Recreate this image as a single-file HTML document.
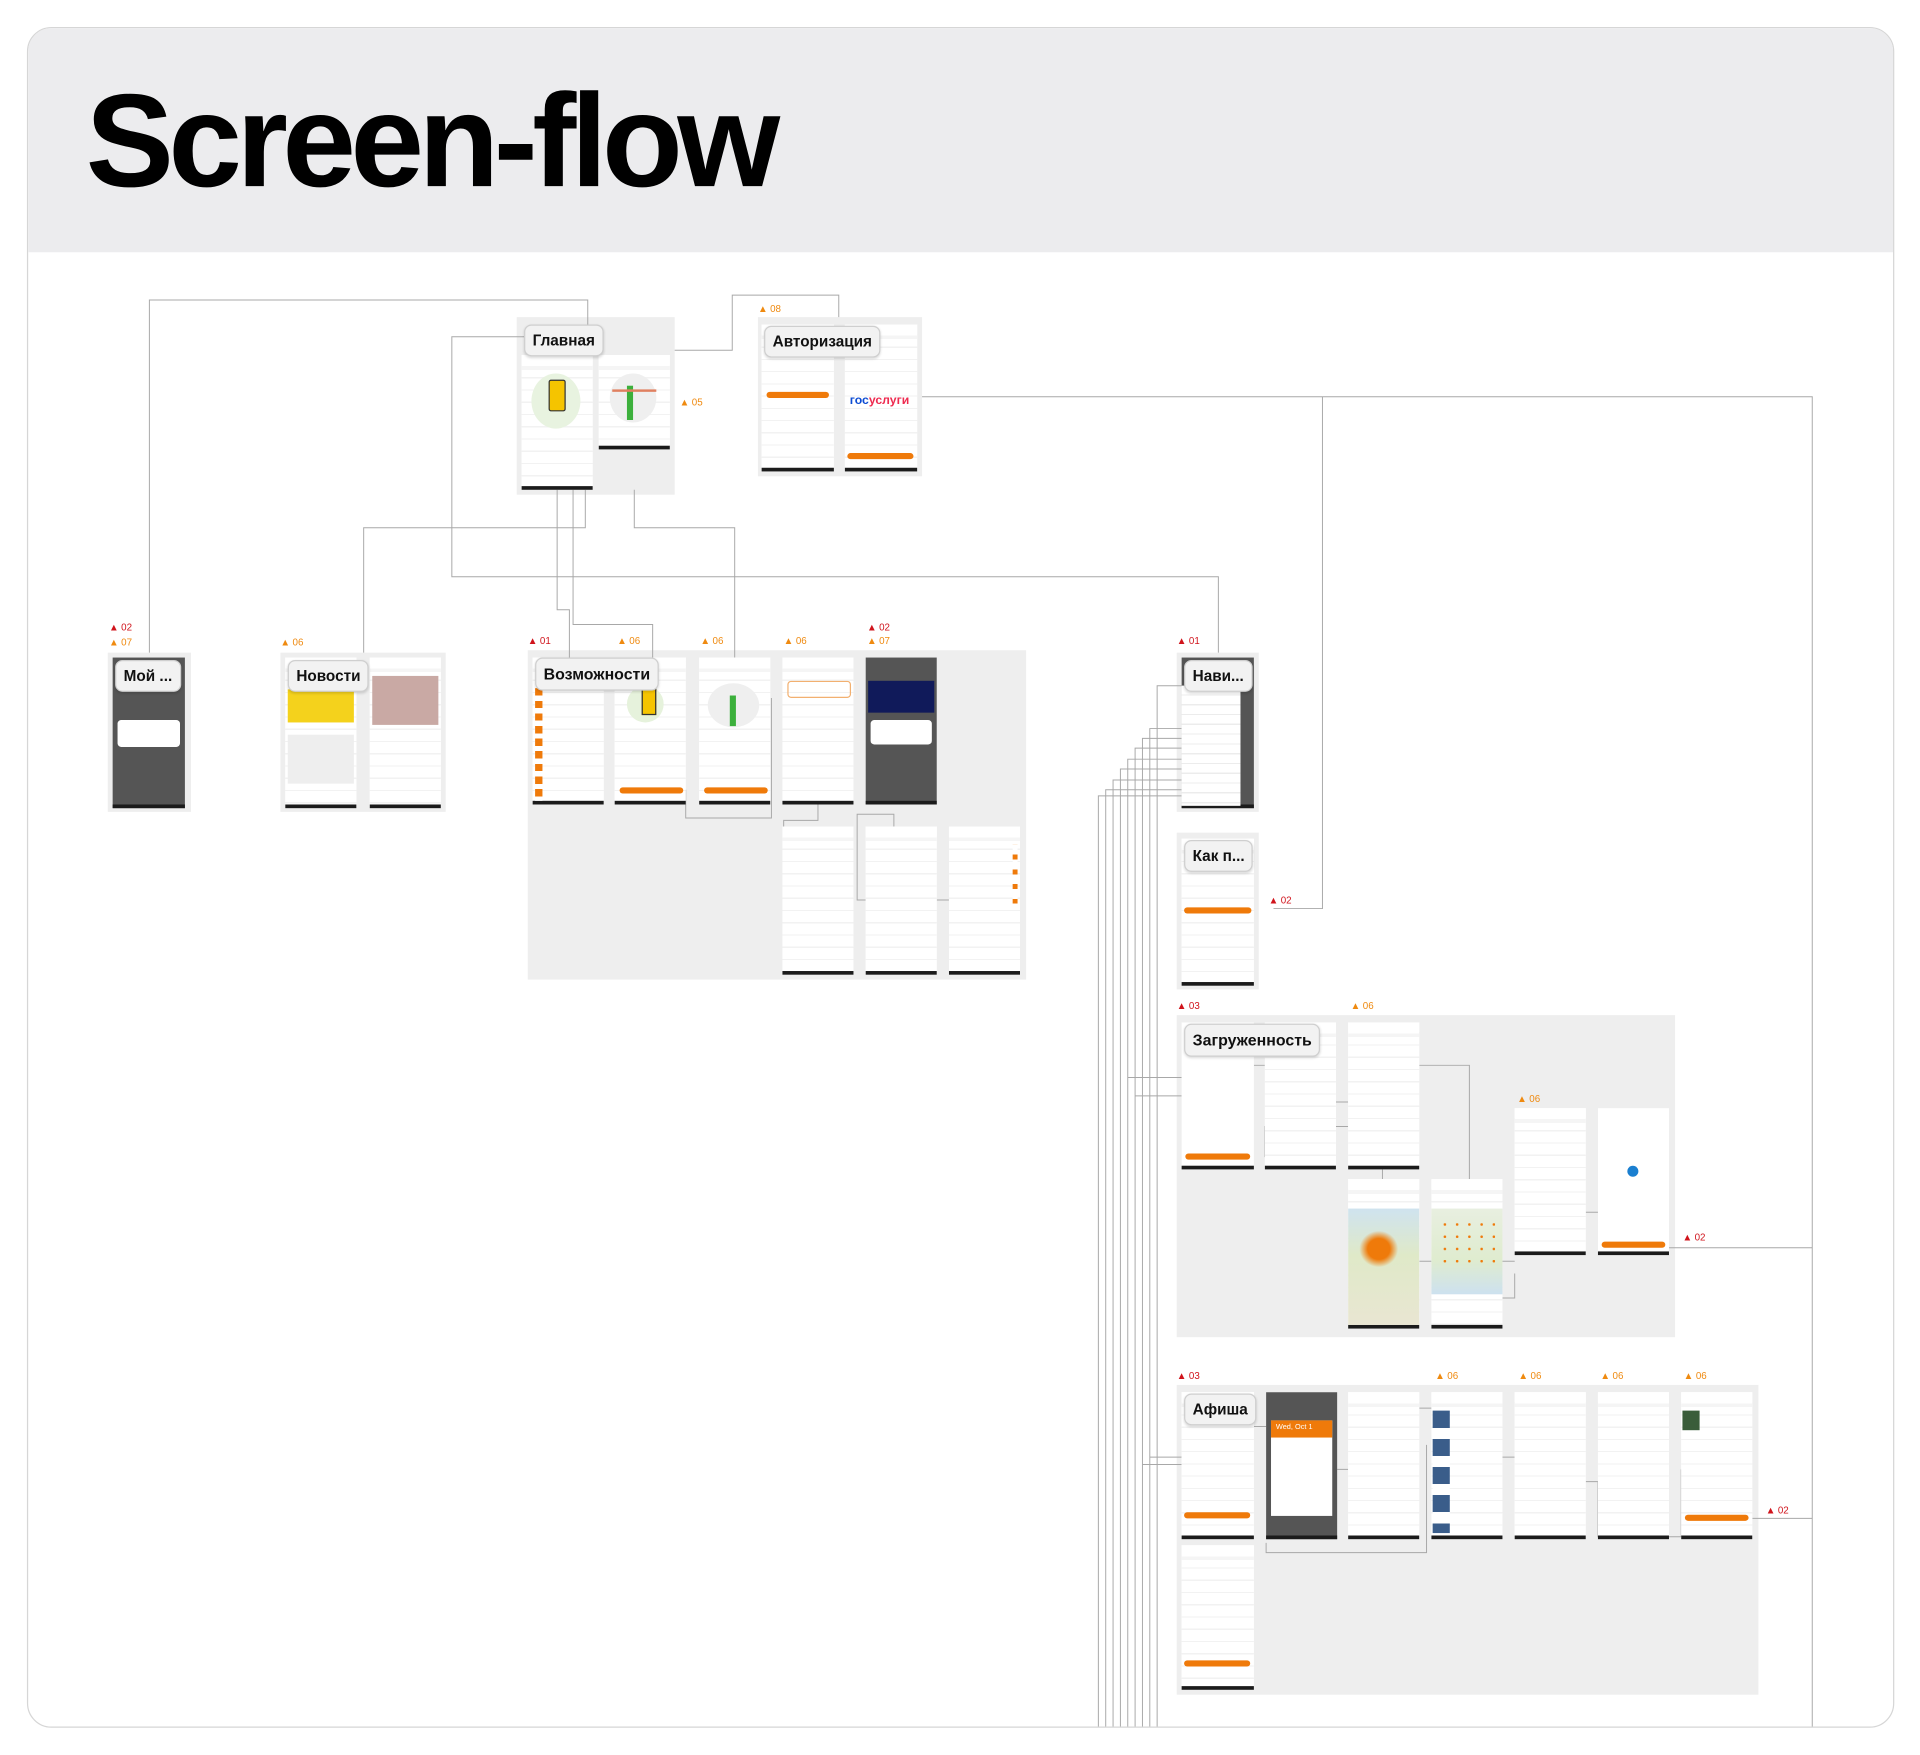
<!DOCTYPE html>
<html><head><meta charset="utf-8"><style>
html,body{margin:0;padding:0;background:#fff;width:1920px;height:1755px;overflow:hidden}
#st{position:absolute;left:0;top:0;width:1568px;height:1433px;transform:scale(1.22449);transform-origin:0 0;font-family:"Liberation Sans","DejaVu Sans",sans-serif}
.card{position:absolute;left:22px;top:22px;width:1523px;height:1387px;border:1px solid #d6d6d6;border-radius:20px;overflow:hidden;background:#fff}
.hdr{position:absolute;left:0;top:0;right:0;height:183px;background:#ececee}
.ttl{position:absolute;left:47px;top:38px;font-size:108px;font-weight:bold;letter-spacing:-4.5px;color:#000;line-height:1}
.g{position:absolute;background:#eeeeee}
.p{position:absolute;background-color:#fff;border-bottom:3px solid #1b1b1b;box-sizing:border-box;background-image:linear-gradient(#fff 0 9px,#f5f5f5 9px 12px,transparent 12px),repeating-linear-gradient(#fff 0 8px,#f2f2f2 8px 9px,#fff 9px 10px);}
.d{background-color:#555;background-image:none}
.lb{position:absolute;background:#f2f2f2;border:1px solid #cfcfcf;border-radius:6px;font-weight:bold;font-size:12.5px;color:#111;padding:5px 6px;box-shadow:0 1px 2px rgba(0,0,0,.15);white-space:nowrap}
.b{position:absolute;height:5px;background:#ef7a0a;border-radius:3px}
.w{position:absolute;font-size:8px;color:#ef8a10;white-space:nowrap}
.w.r{color:#d0141c}
.w:before{content:"▲";margin-right:2px}
svg{position:absolute;left:0;top:0}
</style></head><body><div id="st">
<div class="card"><div class="hdr"><div class="ttl">Screen-flow</div></div></div>

<div class="g" style="left:422px;top:259px;width:129px;height:145px"></div>
<div class="g" style="left:619px;top:259px;width:134px;height:130px"></div>
<div class="g" style="left:88px;top:533px;width:68px;height:130px"></div>
<div class="g" style="left:229px;top:533px;width:135px;height:130px"></div>
<div class="g" style="left:431px;top:531px;width:407px;height:269px"></div>
<div class="g" style="left:961px;top:533px;width:67px;height:130px"></div>
<div class="g" style="left:961px;top:680px;width:67px;height:128px"></div>
<div class="g" style="left:961px;top:829px;width:407px;height:263px"></div>
<div class="g" style="left:961px;top:1131px;width:475px;height:253px"></div>

<svg width="1568" height="1433" fill="none" stroke="#a8a8a8" stroke-width="0.8">
<path d="M122 533V245H480V265"/>
<path d="M551 286H598V241H685V259"/>
<path d="M428 275H369V471H995V533"/>
<path d="M297 533V431H478V400"/>
<path d="M518 400V431H600V537"/>
<path d="M455 400V498H465V537"/>
<path d="M468 400V510H533V537"/>
<path d="M753 324H1480V1410"/>
<path d="M1080 324V742H1040"/>
<path d="M1363 1019H1480"/>
<path d="M1431 1240H1480"/>
<path d="M560 645V668H630V570"/>
<path d="M668 657V670H640V680"/>
<path d="M700 675V665H730V680"/>
<path d="M700 675V735H775"/>
<path d="M897 1410V650H965M903 1410V645H965M909 1410V637H965M915 1410V628H965M921 1410V620H965M927 1410V611H965M933 1410V603H965M939 1410V595H965M945 1410V560H965"/>
<path d="M921 880H965M927 895H965M933 1196H965M939 1190H965"/>
<path d="M1024 870H1033M1091 900H1101M1033 945H1033V920H1101M1159 870H1200V1030H1237M1129 955V963M1159 1030H1169M1227 1060H1237V1040M1295 990H1305M1022 1165H1034M1092 1200H1101M1034 1260V1268H1165V1180M1159 1150H1169M1227 1190H1237M1295 1210H1305V1255H1373V1200"/>
</svg>

<div class="p" style="left:426px;top:290px;width:58px;height:110px"></div>
<div class="p" style="left:489px;top:290px;width:58px;height:77px"></div>
<div style="position:absolute;left:434px;top:305px;width:40px;height:45px;border-radius:50%;background:#e8f3e0"></div>
<div style="position:absolute;left:448px;top:310px;width:12px;height:24px;border-radius:2px;background:#f5c400;border:1px solid #333"></div>
<div style="position:absolute;left:498px;top:305px;width:38px;height:40px;border-radius:50%;background:#efefef"></div>
<div style="position:absolute;left:512px;top:315px;width:5px;height:28px;background:#3cb03c"></div>
<div style="position:absolute;left:500px;top:318px;width:36px;height:2px;background:#e08060"></div>
<div class="lb" style="left:428px;top:265px">Главная</div>
<div class="w" style="left:555px;top:324px">05</div>

<div class="p" style="left:622px;top:265px;width:59px;height:120px"></div>
<div class="p" style="left:690px;top:265px;width:59px;height:120px"></div>
<div class="b" style="left:626px;top:320px;width:51px"></div>
<div class="b" style="left:692px;top:370px;width:54px"></div>
<div style="position:absolute;left:694px;top:322px;font-size:10px;font-weight:bold;color:#0d4cd3">гос<span style="color:#ee2a4f">услуги</span></div>
<div class="lb" style="left:624px;top:266px">Авторизация</div>
<div class="w" style="left:619px;top:248px">08</div>

<div class="p d" style="left:92px;top:537px;width:59px;height:123px"></div>
<div style="position:absolute;left:96px;top:588px;width:51px;height:22px;background:#fff;border-radius:3px"></div>
<div class="lb" style="left:94px;top:539px">Мой ...</div>
<div class="w r" style="left:89px;top:508px">02</div>
<div class="w" style="left:89px;top:520px">07</div>

<div class="p" style="left:233px;top:537px;width:58px;height:123px"></div>
<div class="p" style="left:302px;top:537px;width:58px;height:123px"></div>
<div style="position:absolute;left:235px;top:563px;width:54px;height:27px;background:#f4d21c"></div>
<div style="position:absolute;left:304px;top:552px;width:54px;height:40px;background:#c9a9a4"></div>
<div style="position:absolute;left:235px;top:600px;width:54px;height:40px;background:#eee"></div>
<div class="lb" style="left:235px;top:539px">Новости</div>
<div class="w" style="left:229px;top:520px">06</div>

<div class="p" style="left:435px;top:537px;width:58px;height:120px"></div>
<div class="p" style="left:502px;top:537px;width:58px;height:120px"></div>
<div class="p" style="left:571px;top:537px;width:58px;height:120px"></div>
<div class="p" style="left:639px;top:537px;width:58px;height:120px"></div>
<div class="p d" style="left:707px;top:537px;width:58px;height:120px"></div>
<div style="position:absolute;left:709px;top:556px;width:54px;height:26px;background:#101a5a"></div>
<div style="position:absolute;left:711px;top:588px;width:50px;height:20px;background:#fff;border-radius:3px"></div>
<div class="p" style="left:639px;top:675px;width:58px;height:121px"></div>
<div class="p" style="left:707px;top:675px;width:58px;height:121px"></div>
<div class="p" style="left:775px;top:675px;width:58px;height:121px"></div>
<div class="b" style="left:506px;top:643px;width:52px"></div>
<div class="b" style="left:575px;top:643px;width:52px"></div>
<div style="position:absolute;left:512px;top:560px;width:30px;height:30px;border-radius:50%;background:#e6f2dc"></div>
<div style="position:absolute;left:524px;top:560px;width:10px;height:22px;background:#f5c400;border:1px solid #333"></div>
<div style="position:absolute;left:578px;top:558px;width:42px;height:36px;border-radius:50%;background:#efefef"></div>
<div style="position:absolute;left:596px;top:568px;width:5px;height:25px;background:#3cb03c"></div>
<div style="position:absolute;left:437px;top:562px;width:6px;height:92px;background:repeating-linear-gradient(#ef7a0a 0 6px,#fff 6px 10.3px)"></div>
<div style="position:absolute;left:643px;top:556px;width:50px;height:12px;border:1px solid #f2b070;border-radius:3px"></div>
<div style="position:absolute;left:827px;top:690px;width:4px;height:50px;background:repeating-linear-gradient(#fff 0 8px,#ef7a0a 8px 12px)"></div>
<div class="lb" style="left:437px;top:537px;font-size:13px">Возможности</div>
<div class="w r" style="left:431px;top:519px">01</div>
<div class="w" style="left:504px;top:519px">06</div>
<div class="w" style="left:572px;top:519px">06</div>
<div class="w" style="left:640px;top:519px">06</div>
<div class="w r" style="left:708px;top:508px">02</div>
<div class="w" style="left:708px;top:519px">07</div>

<div class="p d" style="left:965px;top:537px;width:59px;height:123px"></div>
<div style="position:absolute;left:965px;top:560px;width:48px;height:98px;background:#fff;background-image:repeating-linear-gradient(#fff 0 7px,#ececec 7px 8px)"></div>
<div class="lb" style="left:967px;top:539px">Нави...</div>
<div class="w r" style="left:961px;top:519px">01</div>
<div class="p" style="left:965px;top:685px;width:59px;height:120px"></div>
<div class="b" style="left:967px;top:741px;width:55px"></div>
<div class="lb" style="left:967px;top:686px">Как п...</div>
<div class="w r" style="left:1036px;top:731px">02</div>

<div class="p" style="left:965px;top:835px;width:59px;height:120px;background-image:none"></div>
<div class="b" style="left:968px;top:942px;width:53px"></div>
<div class="p" style="left:1033px;top:835px;width:58px;height:120px"></div>
<div class="p" style="left:1101px;top:835px;width:58px;height:120px"></div>
<div class="p" style="left:1101px;top:963px;width:58px;height:122px"></div>
<div style="position:absolute;left:1101px;top:987px;width:58px;height:95px;background:linear-gradient(#cfe3ef,#dfe9c8 40%,#e9e6d2)"></div>
<div style="position:absolute;left:1110px;top:1005px;width:32px;height:30px;background:radial-gradient(#ef7a0a 40%,transparent 70%)"></div>
<div class="p" style="left:1169px;top:963px;width:58px;height:122px"></div>
<div style="position:absolute;left:1169px;top:987px;width:58px;height:70px;background:linear-gradient(#e8efe0,#dfeccf 60%,#cde1ef)"></div>
<div style="position:absolute;left:1175px;top:995px;width:46px;height:40px;background:radial-gradient(circle,#ef7a0a 14%,transparent 17%) 0 0/10px 10px"></div>
<div class="p" style="left:1237px;top:905px;width:58px;height:120px"></div>
<div class="p" style="left:1305px;top:905px;width:58px;height:120px;background-image:none"></div>
<div style="position:absolute;left:1329px;top:952px;width:9px;height:9px;border-radius:50%;background:#1a7fd0"></div>
<div class="b" style="left:1308px;top:1014px;width:52px"></div>
<div class="lb" style="left:967px;top:836px;font-size:13px">Загруженность</div>
<div class="w r" style="left:961px;top:817px">03</div>
<div class="w" style="left:1103px;top:817px">06</div>
<div class="w" style="left:1239px;top:893px">06</div>
<div class="w r" style="left:1374px;top:1006px">02</div>

<div class="p" style="left:965px;top:1137px;width:59px;height:120px"></div>
<div class="b" style="left:967px;top:1235px;width:54px"></div>
<div class="p d" style="left:1034px;top:1137px;width:58px;height:120px"></div>
<div style="position:absolute;left:1038px;top:1160px;width:50px;height:78px;background:#fff"></div>
<div style="position:absolute;left:1038px;top:1160px;width:50px;height:14px;background:#ef7a0a;color:#fff;font-size:6px;padding:3px 0 0 4px;box-sizing:border-box">Wed, Oct 1</div>
<div class="p" style="left:1101px;top:1137px;width:58px;height:120px"></div>
<div class="p" style="left:1169px;top:1137px;width:58px;height:120px"></div>
<div style="position:absolute;left:1170px;top:1152px;width:14px;height:100px;background:repeating-linear-gradient(#3a5d8a 0 14px,#fff 14px 23px)"></div>
<div class="p" style="left:1237px;top:1137px;width:58px;height:120px"></div>
<div class="p" style="left:1305px;top:1137px;width:58px;height:120px"></div>
<div class="p" style="left:1373px;top:1137px;width:58px;height:120px"></div>
<div style="position:absolute;left:1374px;top:1152px;width:14px;height:16px;background:#3a5d3a"></div>
<div class="b" style="left:1376px;top:1237px;width:52px"></div>
<div class="p" style="left:965px;top:1262px;width:59px;height:118px"></div>
<div class="b" style="left:967px;top:1356px;width:54px"></div>
<div class="lb" style="left:967px;top:1138px">Афиша</div>
<div class="w r" style="left:961px;top:1119px">03</div>
<div class="w" style="left:1172px;top:1119px">06</div>
<div class="w" style="left:1240px;top:1119px">06</div>
<div class="w" style="left:1307px;top:1119px">06</div>
<div class="w" style="left:1375px;top:1119px">06</div>
<div class="w r" style="left:1442px;top:1229px">02</div>
</div></body></html>
